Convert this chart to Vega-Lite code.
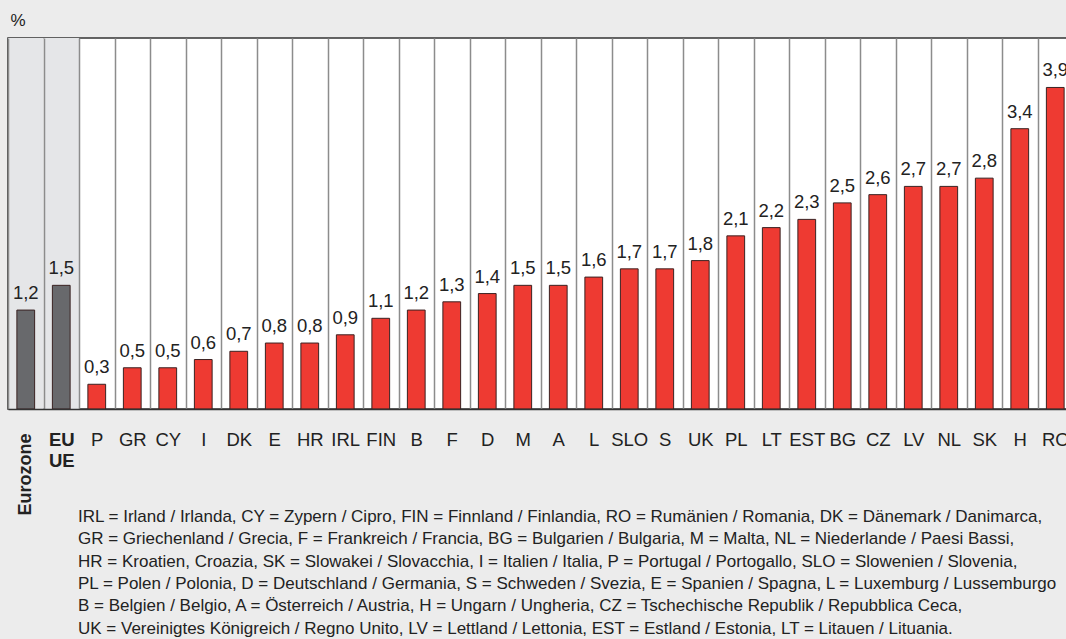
{
  "$schema": "https://vega.github.io/schema/vega-lite/v6.json",
  "width": 1065,
  "height": 371,
  "autosize": "none",
  "padding": {"left": 8, "top": 38, "right": 0, "bottom": 230},
  "background": "#ececec",
  "config": {
    "locale": {"number": {"decimal": ",", "thousands": ".", "grouping": [3], "currency": ["", " €"]}},
    "font": "Liberation Sans",
    "view": {"fill": "white", "stroke": "#333333", "strokeWidth": 1.5}
  },
  "title": {
    "text": [
      "IRL = Irland / Irlanda, CY = Zypern / Cipro, FIN = Finnland / Finlandia, RO = Rumänien / Romania, DK = Dänemark / Danimarca,",
      "GR = Griechenland / Grecia, F = Frankreich / Francia, BG = Bulgarien / Bulgaria, M = Malta, NL = Niederlande / Paesi Bassi,",
      "HR = Kroatien, Croazia, SK = Slowakei / Slovacchia, I = Italien / Italia, P = Portugal / Portogallo, SLO = Slowenien / Slovenia,",
      "PL = Polen / Polonia, D = Deutschland / Germania, S = Schweden / Svezia, E = Spanien / Spagna, L = Luxemburg / Lussemburgo",
      "B = Belgien / Belgio, A = Österreich / Austria, H = Ungarn / Ungheria, CZ = Tschechische Republik / Repubblica Ceca,",
      "UK = Vereinigtes Königreich / Regno Unito, LV = Lettland / Lettonia, EST = Estland / Estonia, LT = Litauen / Lituania."
    ],
    "orient": "bottom",
    "anchor": "start",
    "frame": "group",
    "dx": 70,
    "offset": -6,
    "fontSize": 17,
    "fontWeight": "normal",
    "color": "#222222",
    "lineHeight": 22.3,
    "baseline": "top"
  },
  "data": {
    "values": [
      {"country": "Eurozone", "value": 1.2, "group": "agg"},
      {"country": "EU", "value": 1.5, "group": "agg"},
      {"country": "P", "value": 0.3, "group": "country"},
      {"country": "GR", "value": 0.5, "group": "country"},
      {"country": "CY", "value": 0.5, "group": "country"},
      {"country": "I", "value": 0.6, "group": "country"},
      {"country": "DK", "value": 0.7, "group": "country"},
      {"country": "E", "value": 0.8, "group": "country"},
      {"country": "HR", "value": 0.8, "group": "country"},
      {"country": "IRL", "value": 0.9, "group": "country"},
      {"country": "FIN", "value": 1.1, "group": "country"},
      {"country": "B", "value": 1.2, "group": "country"},
      {"country": "F", "value": 1.3, "group": "country"},
      {"country": "D", "value": 1.4, "group": "country"},
      {"country": "M", "value": 1.5, "group": "country"},
      {"country": "A", "value": 1.5, "group": "country"},
      {"country": "L", "value": 1.6, "group": "country"},
      {"country": "SLO", "value": 1.7, "group": "country"},
      {"country": "S", "value": 1.7, "group": "country"},
      {"country": "UK", "value": 1.8, "group": "country"},
      {"country": "PL", "value": 2.1, "group": "country"},
      {"country": "LT", "value": 2.2, "group": "country"},
      {"country": "EST", "value": 2.3, "group": "country"},
      {"country": "BG", "value": 2.5, "group": "country"},
      {"country": "CZ", "value": 2.6, "group": "country"},
      {"country": "LV", "value": 2.7, "group": "country"},
      {"country": "NL", "value": 2.7, "group": "country"},
      {"country": "SK", "value": 2.8, "group": "country"},
      {"country": "H", "value": 3.4, "group": "country"},
      {"country": "RO", "value": 3.9, "group": "country"}
    ]
  },
  "resolve": {"axis": {"x": "independent", "y": "independent"}},
  "layer": [
    {
      "transform": [{"filter": "datum.group == 'agg'"}],
      "mark": {"type": "bar", "width": {"band": 1}, "color": "#e5e6e8"},
      "encoding": {
        "x": {
          "field": "country", "type": "nominal", "sort": null,
          "scale": {"paddingInner": 0, "paddingOuter": 0},
          "axis": {
            "orient": "bottom", "title": null, "domain": false, "ticks": false, "grid": false,
            "labelExpr": "datum.value == 'Eurozone' ? 'Eurozone' : ''",
            "labelAngle": -90, "labelAlign": "right", "labelBaseline": "middle",
            "labelPadding": 24, "labelFontSize": 18, "labelFontWeight": "bold",
            "labelColor": "#222222", "labelFont": "Liberation Sans", "labelOverlap": false
          }
        },
        "y": {"datum": 4.5, "type": "quantitative", "scale": {"domain": [0, 4.5], "nice": false}, "axis": null},
        "y2": {"datum": 0}
      }
    },
    {
      "mark": {"type": "bar", "width": {"band": 0.5}, "stroke": "#3a2222", "strokeWidth": 1},
      "encoding": {
        "x": {
          "field": "country", "type": "nominal", "sort": null,
          "axis": {
            "orient": "bottom", "title": null, "zindex": 1,
            "domain": true, "domainColor": "#333333", "domainWidth": 1.5,
            "ticks": false, "tickBand": "extent",
            "grid": true, "gridColor": "#8c8c8c", "gridWidth": 1.5,
            "labelExpr": "datum.value == 'Eurozone' ? '' : (datum.value == 'EU' ? ['EU', 'UE'] : datum.value)",
            "labelAngle": 0, "labelAlign": "center", "labelBaseline": "top",
            "labelPadding": 21, "labelFontSize": 18.5, "labelColor": "#222222",
            "labelFont": "Liberation Sans", "labelLineHeight": 21, "labelOverlap": false,
            "labelFontWeight": {"condition": {"test": "datum.value == 'EU'", "value": "bold"}, "value": "normal"}
          }
        },
        "y": {
          "field": "value", "type": "quantitative",
          "scale": {"domain": [0, 4.5], "nice": false},
          "axis": {
            "title": "%", "titleAngle": 0, "titleAlign": "left", "titleBaseline": "middle",
            "titleX": 2, "titleY": -18, "titleFontSize": 17, "titleFontWeight": "normal",
            "titleColor": "#222222", "titleFont": "Liberation Sans",
            "domain": true, "domainColor": "#333333", "domainWidth": 1.5,
            "ticks": false, "labels": false, "grid": false
          }
        },
        "color": {
          "field": "group", "type": "nominal",
          "scale": {"domain": ["agg", "country"], "range": ["#68696c", "#ee3a32"]},
          "legend": null
        }
      }
    },
    {
      "mark": {"type": "text", "baseline": "alphabetic", "dy": -11, "fontSize": 18.5, "color": "#222222", "font": "Liberation Sans"},
      "encoding": {
        "x": {"field": "country", "type": "nominal", "sort": null, "axis": null},
        "y": {"field": "value", "type": "quantitative", "scale": {"domain": [0, 4.5], "nice": false}, "axis": null},
        "text": {"field": "value", "type": "quantitative", "format": ".1f"}
      }
    }
  ]
}
